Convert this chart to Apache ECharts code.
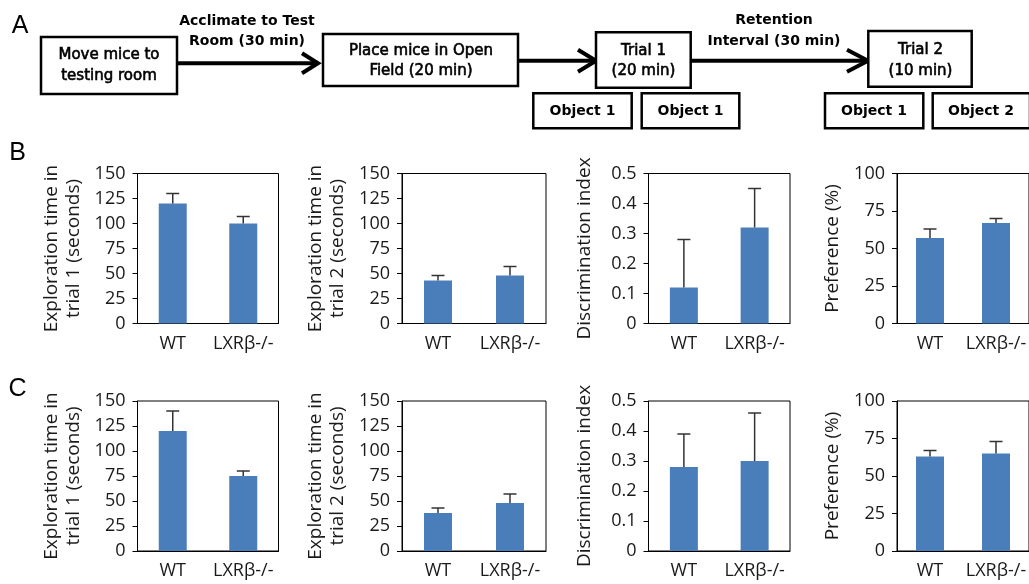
<!DOCTYPE html>
<html>
<head>
<meta charset="utf-8">
<script src="https://cdn.jsdelivr.net/npm/echarts@6/dist/echarts.min.js"></script>
<style>
html,body{margin:0;padding:0;background:#fff;}
#chart{width:1029px;height:584px;}
</style>
</head>
<body>
<div id="chart"></div>
<script>
// ---------- DATA ----------
const categories = ['WT', 'LXRβ-/-'];

const yAxisNames = [
  'Exploration time in\ntrial 1 (seconds)',
  'Exploration time in\ntrial 2 (seconds)',
  'Discrimination index',
  'Preference (%)'
];
const yAxisMax = [150, 150, 0.5, 100];
const yAxisStep = [25, 25, 0.1, 25];

// Row B
const bTrial1 = [120, 100];
const bTrial1Err = [10, 7];
const bTrial2 = [43, 48];
const bTrial2Err = [5, 9];
const bDiscrimination = [0.12, 0.32];
const bDiscriminationErr = [0.16, 0.13];
const bPreference = [57, 67];
const bPreferenceErr = [6, 3];

// Row C
const cTrial1 = [120, 75];
const cTrial1Err = [20, 5];
const cTrial2 = [38, 48];
const cTrial2Err = [5, 9];
const cDiscrimination = [0.28, 0.30];
const cDiscriminationErr = [0.11, 0.16];
const cPreference = [63, 65];
const cPreferenceErr = [4, 8];

const panelLetters = ['A', 'B', 'C'];

// ---------- LAYOUT ----------
const rows = [
  { values: [bTrial1, bTrial2, bDiscrimination, bPreference],
    errs: [bTrial1Err, bTrial2Err, bDiscriminationErr, bPreferenceErr], top: 173.5 },
  { values: [cTrial1, cTrial2, cDiscrimination, cPreference],
    errs: [cTrial1Err, cTrial2Err, cDiscriminationErr, cPreferenceErr], top: 401 }
];
const colLeft = [137.5, 402, 648.5, 897];
const colWidth = [141, 144, 141.5, 141];
const plotHeight = 150;

const BAR = '#4a7ebb';
const TXT = '#1a1a1a';
const FONT = '"Open Sans", sans-serif';

const grids = [], xAxes = [], yAxes = [], series = [];
let gi = 0;
rows.forEach((row) => {
  for (let c = 0; c < 4; c++) {
    grids.push({
      left: colLeft[c], top: row.top, width: colWidth[c], height: plotHeight,
      show: true, borderColor: '#000', borderWidth: 1, backgroundColor: 'transparent',
      containLabel: false
    });
    xAxes.push({
      type: 'category', gridIndex: gi, data: categories,
      axisLine: { show: true, lineStyle: { color: '#000', width: 1 } },
      axisTick: { show: false },
      axisLabel: { color: TXT, fontSize: 18, fontFamily: FONT, margin: 11, interval: 0 }
    });
    yAxes.push({
      type: 'value', gridIndex: gi, min: 0, max: yAxisMax[c], interval: yAxisStep[c],
      splitLine: { show: false },
      axisLine: { show: true, lineStyle: { color: '#000', width: 1 } },
      axisTick: { show: true, length: 5, lineStyle: { color: '#000' } },
      axisLabel: { color: TXT, fontSize: 18, fontFamily: FONT, margin: 12 },
      name: yAxisNames[c], nameLocation: 'middle', nameRotate: 90, nameGap: 53,
      nameTextStyle: { color: TXT, fontSize: 19, fontFamily: FONT, lineHeight: 22 }
    });
    series.push({
      type: 'bar', xAxisIndex: gi, yAxisIndex: gi, data: row.values[c],
      barWidth: 28, itemStyle: { color: BAR }, silent: true
    });
    series.push({
      type: 'custom', xAxisIndex: gi, yAxisIndex: gi, silent: true, z: 5,
      data: row.values[c].map((v, i) => [i, v, row.errs[c][i]]),
      encode: { x: 0, y: 1 },
      renderItem: function (params, api) {
        const base = api.coord([api.value(0), api.value(1)]);
        const top = api.coord([api.value(0), api.value(1) + api.value(2)]);
        const half = 6.5;
        const st = { stroke: '#333', lineWidth: 1.5 };
        return {
          type: 'group', children: [
            { type: 'line', shape: { x1: base[0], y1: base[1], x2: top[0], y2: top[1] }, style: st },
            { type: 'line', shape: { x1: top[0] - half, y1: top[1], x2: top[0] + half, y2: top[1] }, style: st }
          ]
        };
      }
    });
    gi++;
  }
});

// ---------- FLOW DIAGRAM (panel A) ----------
const BOXFONT = '15px "DejaVu Sans", Verdana, sans-serif';
const BOLDFONT = 'bold 14px "DejaVu Sans", Verdana, sans-serif';
function box(x1, y1, x2, y2) {
  return { type: 'rect', shape: { x: x1, y: y1, width: x2 - x1, height: y2 - y1 },
    style: { fill: '#fff', stroke: '#000', lineWidth: 2.5 }, z: 10 };
}
function txt(x, y, s, font, lh, heavy) {
  const style = { text: s, font: font, fill: '#000', textAlign: 'center', textVerticalAlign: 'middle', lineHeight: lh || 20 };
  if (heavy) { style.stroke = '#000'; style.lineWidth = 0.6; }
  return { type: 'text', x: x, y: y, z: 11, style: style };
}
function arrow(x1, x2, y, back, spread) {
  return [
    { type: 'polyline', z: 9, shape: { points: [[x1, y], [x2 - 2, y]] }, style: { stroke: '#000', lineWidth: 4, fill: null } },
    { type: 'polyline', z: 9, shape: { points: [[x2 - back, y - spread], [x2, y], [x2 - back, y + spread]] },
      style: { stroke: '#000', lineWidth: 4, fill: null, lineJoin: 'miter' } }
  ];
}
const graphics = [
  box(41, 37, 177, 94), txt(109, 65.5, 'Move mice to\ntesting room', BOXFONT, 21, true),
  ...arrow(178, 318, 63.3, 16, 10),
  txt(247, 31.5, 'Acclimate to Test\nRoom (30 min)', BOLDFONT, 20),
  box(323, 34, 518, 86), txt(421, 61, 'Place mice in Open\nField (20 min)', BOXFONT, 19.5, true),
  ...arrow(518, 596, 60.7, 18, 11),
  box(596, 32.3, 690.7, 87.7), txt(643.5, 61.5, 'Trial 1\n(20 min)', BOXFONT, 20, true),
  ...arrow(690.7, 868, 60.7, 21, 11),
  txt(774, 31, 'Retention\nInterval (30 min)', BOLDFONT, 21.5),
  box(868.3, 31, 971.7, 86.7), txt(920.5, 60.5, 'Trial 2\n(10 min)', BOXFONT, 21, true),
  box(533.3, 93.3, 631.7, 128.3), txt(582.5, 111, 'Object 1', BOLDFONT),
  box(641.7, 93.3, 739.3, 128.3), txt(690.5, 111, 'Object 1', BOLDFONT),
  box(825, 93.3, 923.3, 128.3), txt(874, 111, 'Object 1', BOLDFONT),
  box(932.7, 93.3, 1030, 128.3), txt(981, 111, 'Object 2', BOLDFONT),
  { type: 'text', x: 20, y: 26, z: 11, style: { text: panelLetters[0], font: '25px "Liberation Sans", Arial, sans-serif', fill: '#000', textAlign: 'center', textVerticalAlign: 'middle' } },
  { type: 'text', x: 17.5, y: 153, z: 11, style: { text: panelLetters[1], font: '25px "Liberation Sans", Arial, sans-serif', fill: '#000', textAlign: 'center', textVerticalAlign: 'middle' } },
  { type: 'text', x: 17.5, y: 389.5, z: 11, style: { text: panelLetters[2], font: '25px "Liberation Sans", Arial, sans-serif', fill: '#000', textAlign: 'center', textVerticalAlign: 'middle' } }
];

const chart = echarts.init(document.getElementById('chart'), null, { renderer: 'canvas' });
chart.setOption({
  animation: false,
  backgroundColor: '#fff',
  grid: grids,
  xAxis: xAxes,
  yAxis: yAxes,
  series: series,
  graphic: graphics
});
</script>
</body>
</html>
